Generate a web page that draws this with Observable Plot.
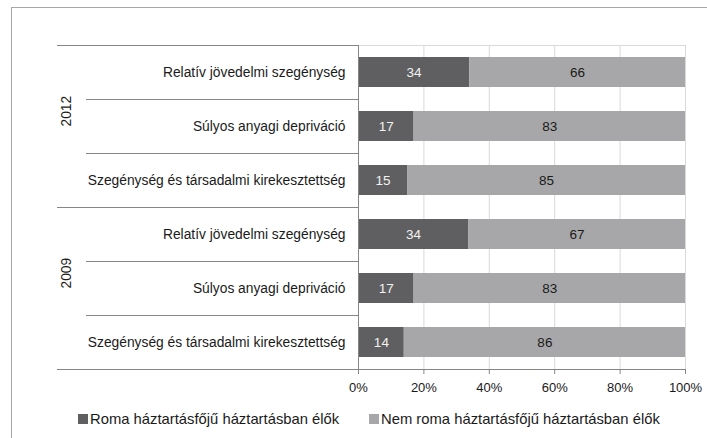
<!DOCTYPE html>
<html><head><meta charset="utf-8">
<script src="https://cdn.jsdelivr.net/npm/d3@7"></script>
<script src="https://cdn.jsdelivr.net/npm/@observablehq/plot@0.6"></script>
<style>
body{margin:0;width:707px;height:438px;overflow:hidden;background:#fff;font-family:"Liberation Sans",Arial,sans-serif;position:relative;}
#border{position:absolute;left:11px;top:7px;width:800px;height:600px;border:1px solid #a6a6a6;box-sizing:border-box;}
#chart{position:absolute;left:0;top:0;}
.leg{position:absolute;top:411px;font-size:14.8px;color:#1a1a1a;display:flex;align-items:center;white-space:nowrap;}
.sw{width:10px;height:10px;display:inline-block;margin-right:2px;}
</style></head><body>
<div id="border"></div>
<div id="chart"></div>
<div id="legend"></div>
<script>
const years = ["2012", "2009"];
const categories = ["Relatív jövedelmi szegénység", "Súlyos anyagi depriváció", "Szegénység és társadalmi kirekesztettség"];
const seriesNames = ["Roma háztartásfőjű háztartásban élők", "Nem roma háztartásfőjű háztartásban élők"];
const roma2012 = [34, 17, 15];
const nonRoma2012 = [66, 83, 85];
const roma2009 = [34, 17, 14];
const nonRoma2009 = [67, 83, 86];
const xTicks = [0, 0.2, 0.4, 0.6, 0.8, 1];

const seriesColors = ["#5f5f61", "#a7a7a9"];
const labelColors = ["#f2f2f2", "#1a1a1a"];

const valuesByYear = {"2012": [roma2012, nonRoma2012], "2009": [roma2009, nonRoma2009]};
const keys = [];
const rows = [];
for (const yr of years) {
  categories.forEach((c, i) => {
    const key = yr + "|" + c;
    keys.push(key);
    seriesNames.forEach((s, j) => rows.push({key, year: yr, category: c, series: s, si: j, value: valuesByYear[yr][j][i]}));
  });
}
const groupTops = years.map(y => y + "|" + categories[0]);
const innerTops = keys.filter(k => !groupTops.includes(k));
const lastKey = keys[keys.length - 1];

const W = 707, H = 400, mT = 45, mB = 31, mL = 358, mR = 22;
const band = (H - mT - mB) / keys.length;
const axisGray = "#868686";

const chart = Plot.plot({
  width: W, height: H,
  marginTop: mT, marginBottom: mB, marginLeft: mL, marginRight: mR,
  style: {fontFamily: "'Liberation Sans', Arial, sans-serif", fontSize: "13px", background: "transparent", color: "#1a1a1a"},
  x: {domain: [0, 1], label: null},
  y: {domain: keys, padding: 0, label: null},
  color: {type: "identity"},
  marks: [
    Plot.gridX(xTicks, {stroke: "#d9d9d9", strokeOpacity: 1}),
    Plot.frame({stroke: "#d9d9d9"}),
    Plot.barX(rows, Plot.stackX({x: "value", y: "key", z: "series", offset: "normalize",
      fill: d => seriesColors[d.si], insetTop: 12, insetBottom: 12})),
    Plot.text(rows, Plot.stackX({x: "value", y: "key", z: "series", offset: "normalize",
      text: d => String(d.value), fill: d => labelColors[d.si], fontSize: 13.5})),
    Plot.ruleX([0], {stroke: axisGray}),
    Plot.frame({anchor: "bottom", stroke: axisGray}),
    Plot.axisY(groupTops, {tickSize: 301, dy: -band / 2, tickFormat: () => "", stroke: axisGray, label: null}),
    Plot.axisY(innerTops, {tickSize: 272, dy: -band / 2, tickFormat: () => "", stroke: axisGray, label: null}),
    Plot.axisY([lastKey], {tickSize: 301, dy: band / 2, tickFormat: () => "", stroke: axisGray, label: null}),
    Plot.axisY(keys, {tickSize: 0, tickPadding: 13, tickFormat: k => k.split("|")[1], fontSize: 13.8, fill: "#1a1a1a", label: null}),
    Plot.text(years, {y: d => d + "|" + categories[1], text: d => d, frameAnchor: "left", dx: -292, rotate: -90, fontSize: 13.8, fill: "#1a1a1a"}),
    Plot.axisX(xTicks, {tickSize: 5, tickPadding: 8, tickFormat: d3.format(".0%"), stroke: axisGray, fill: "#1a1a1a", fontSize: 13, label: null})
  ]
});
document.getElementById("chart").appendChild(chart);

const legendPos = [78, 369];
const legend = document.getElementById("legend");
seriesNames.forEach((s, i) => {
  const d = document.createElement("div");
  d.className = "leg";
  d.style.left = legendPos[i] + "px";
  d.innerHTML = `<span class="sw" style="background:${seriesColors[i]}"></span><span>${s}</span>`;
  legend.appendChild(d);
});
</script>
</body></html>
